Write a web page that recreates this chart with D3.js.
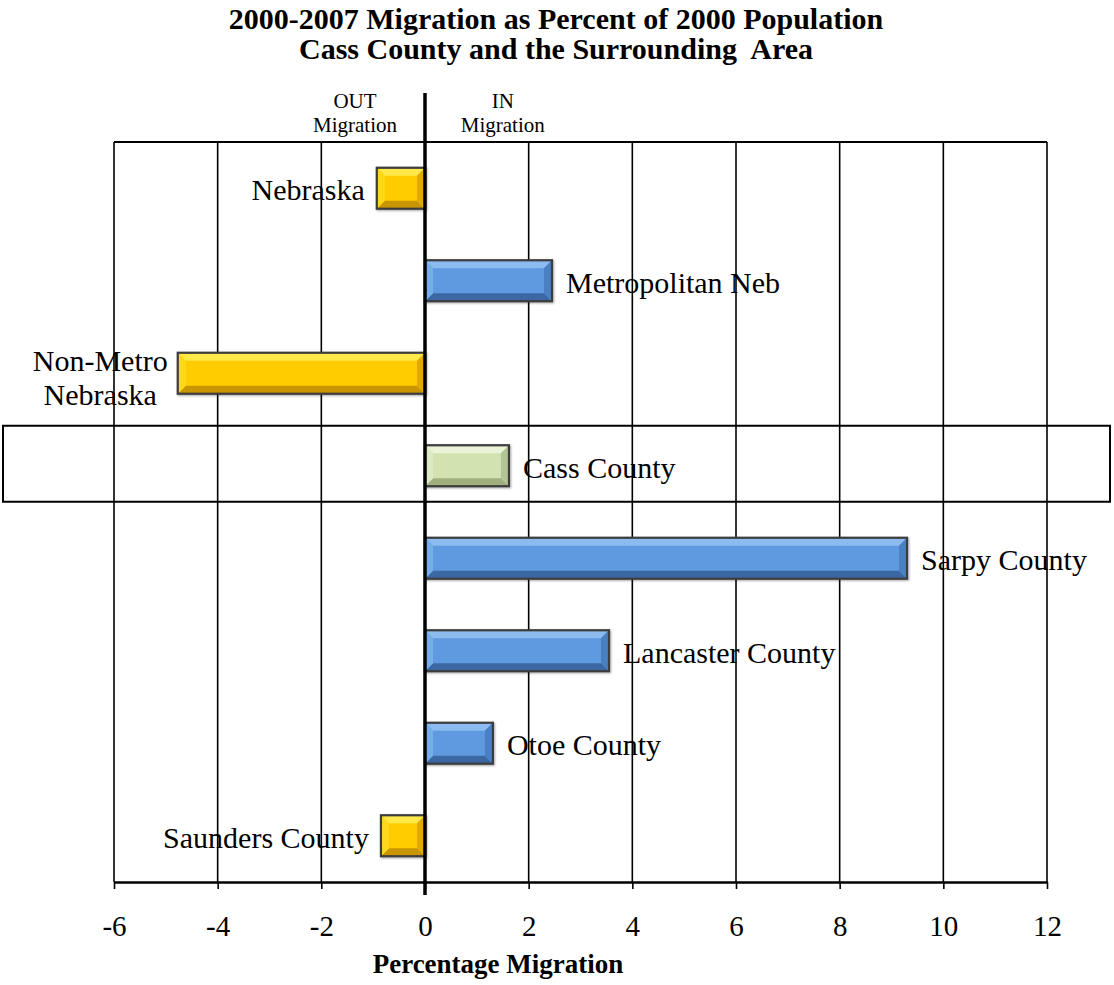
<!DOCTYPE html>
<html>
<head>
<meta charset="utf-8">
<script src="https://cdn.jsdelivr.net/npm/d3@7/dist/d3.min.js"></script>
<style>
  html, body { margin: 0; padding: 0; background: #fff; }
  svg { display: block; }
  text { font-family: "Liberation Serif", "Times New Roman", serif; fill: #000; white-space: pre; }
</style>
</head>
<body>
<svg id="chart" width="1114" height="985"></svg>
<script>
// ---- data ----
const categories = ["Nebraska", "Metropolitan Neb", "Non-Metro Nebraska", "Cass County",
                    "Sarpy County", "Lancaster County", "Otoe County", "Saunders County"];
const labelLines = [["Nebraska"], ["Metropolitan Neb"], ["Non-Metro", "Nebraska"], ["Cass County"],
                    ["Sarpy County"], ["Lancaster County"], ["Otoe County"], ["Saunders County"]];
const values = [-0.93, 2.45, -4.77, 1.62, 9.3, 3.55, 1.31, -0.85];
const barGroup = ["out", "in", "out", "focus", "in", "in", "in", "out"];
const xTicks = [-6, -4, -2, 0, 2, 4, 6, 8, 10, 12];
const titleLines = ["2000-2007 Migration as Percent of 2000 Population",
                    "Cass County and the Surrounding  Area"];
const xAxisTitle = "Percentage Migration";
const highlightCategory = "Cass County";

// ---- styles ----
const palette = {
  out:   { main: "#FFCC00", top: "#FFE94A", bottom: "#C99500", left: "#FFD81A", right: "#E0AA00" },
  in:    { main: "#5E9AE0", top: "#8CBBF0", bottom: "#3A68A3", left: "#78ADEA", right: "#4880C2" },
  focus: { main: "#D3E2B1", top: "#EAF2D8", bottom: "#9FB07E", left: "#DDE9C5", right: "#B3C495" }
};

const svg = d3.select("#chart");
const plot = { left: 114, right: 1047, top: 142, bottom: 882 };

const x = d3.scaleLinear().domain([-6, 12]).range([plot.left, plot.right]);
const y = d3.scaleBand().domain(categories).range([plot.top, plot.bottom])
  .paddingInner(0.557).paddingOuter(0.2785);

// title
svg.append("g").selectAll("text").data(titleLines).join("text")
  .attr("x", 556).attr("y", (d, i) => 29 + i * 30)
  .attr("text-anchor", "middle")
  .style("font-weight", "bold").style("font-size", "30px")
  .text(d => d);

// OUT / IN labels
const dirLabels = [{ lines: ["OUT", "Migration"], v: -1.35 }, { lines: ["IN", "Migration"], v: 1.5 }];
dirLabels.forEach(dl => {
  const t = svg.append("text").attr("text-anchor", "middle").style("font-size", "21px");
  dl.lines.forEach((ln, i) => {
    t.append("tspan").attr("x", x(dl.v)).attr("y", 108 + i * 24).text(ln);
  });
});

// gridlines
svg.append("g").selectAll("line").data(xTicks).join("line")
  .attr("x1", d => x(d)).attr("x2", d => x(d))
  .attr("y1", plot.top).attr("y2", plot.bottom)
  .attr("stroke", "#000").attr("stroke-width", 1.6);

// top border
svg.append("line").attr("x1", plot.left).attr("x2", plot.right)
  .attr("y1", plot.top).attr("y2", plot.top)
  .attr("stroke", "#000").attr("stroke-width", 2);

// highlight box around Cass County
const hc = y(highlightCategory) + y.bandwidth() / 2;
svg.append("rect").attr("x", 3).attr("y", hc - 40).attr("width", 1107).attr("height", 76)
  .attr("fill", "none").attr("stroke", "#000").attr("stroke-width", 2);

// x axis
const xAxis = d3.axisBottom(x).tickValues(xTicks).tickSize(7).tickSizeOuter(0).tickFormat(d3.format("d"));
const ax = svg.append("g").attr("transform", `translate(0,${plot.bottom})`).call(xAxis);
ax.select(".domain").attr("stroke", "#000").attr("stroke-width", 2.6);
ax.selectAll(".tick line").attr("stroke", "#000").attr("stroke-width", 1.6);
ax.selectAll(".tick text").attr("y", 54).attr("dy", 0)
  .style("font-family", "'Liberation Serif', 'Times New Roman', serif")
  .style("font-size", "29px").attr("fill", "#000")
  .text(d => d < 0 ? "-" + Math.abs(d) : d);

// axis title
svg.append("text").attr("x", 498).attr("y", 973).attr("text-anchor", "middle")
  .style("font-weight", "bold").style("font-size", "27px").text(xAxisTitle);

// bars with bevel
const defs = svg.append("defs");
const f = defs.append("filter").attr("id", "shadow").attr("x", "-10%").attr("y", "-20%")
  .attr("width", "120%").attr("height", "140%");
f.append("feDropShadow").attr("dx", 1).attr("dy", 1).attr("stdDeviation", 1)
  .attr("flood-color", "#000").attr("flood-opacity", 0.35);

const bevel = 8;
const bars = svg.append("g").selectAll("g").data(categories).join("g")
  .attr("filter", "url(#shadow)");
bars.each(function (c, i) {
  const g = d3.select(this);
  const v = values[i];
  const pal = palette[barGroup[i]];
  const x0 = Math.min(x(0), x(v)), x1 = Math.max(x(0), x(v));
  const y0 = y(c), y1 = y(c) + y.bandwidth();
  const b = Math.min(bevel, (x1 - x0) / 2, (y1 - y0) / 2);
  g.append("rect").attr("x", x0).attr("y", y0).attr("width", x1 - x0).attr("height", y1 - y0)
    .attr("fill", pal.main);
  const poly = (pts, col) => g.append("path")
    .attr("d", d3.line()(pts) + "Z").attr("fill", col);
  poly([[x0, y0], [x1, y0], [x1 - b, y0 + b], [x0 + b, y0 + b]], pal.top);
  poly([[x0, y1], [x1, y1], [x1 - b, y1 - b], [x0 + b, y1 - b]], pal.bottom);
  poly([[x0, y0], [x0 + b, y0 + b], [x0 + b, y1 - b], [x0, y1]], pal.left);
  poly([[x1, y0], [x1 - b, y0 + b], [x1 - b, y1 - b], [x1, y1]], pal.right);
  g.append("rect").attr("x", x0).attr("y", y0).attr("width", x1 - x0).attr("height", y1 - y0)
    .attr("fill", "none").attr("stroke", "#3c3c3c").attr("stroke-width", 2.2);
});

// zero line
svg.append("line").attr("x1", x(0)).attr("x2", x(0)).attr("y1", 93).attr("y2", 895)
  .attr("stroke", "#000").attr("stroke-width", 3.5);

// category labels
const fs = 30;
categories.forEach((c, i) => {
  const v = values[i];
  const lines = labelLines[i];
  const cy = y(c) + y.bandwidth() / 2;
  const t = svg.append("text").style("font-size", fs + "px");
  const lh = 34;
  const startY = cy + 12 - (lines.length - 1) * lh / 2 + (lines.length > 1 ? 3 : 0);
  if (lines.length === 1) {
    t.attr("text-anchor", v < 0 ? "end" : "start")
      .attr("x", v < 0 ? x(v) - 12 : x(v) + 14).attr("y", startY).text(lines[0]);
  } else {
    t.attr("text-anchor", "middle");
    lines.forEach((ln, k) => t.append("tspan").attr("x", 0).attr("y", startY + k * lh).text(ln));
    const w = t.node().getBBox().width;
    const cx = v < 0 ? x(v) - 10 - w / 2 : x(v) + 14 + w / 2;
    t.selectAll("tspan").attr("x", cx);
  }
});
</script>
</body>
</html>
